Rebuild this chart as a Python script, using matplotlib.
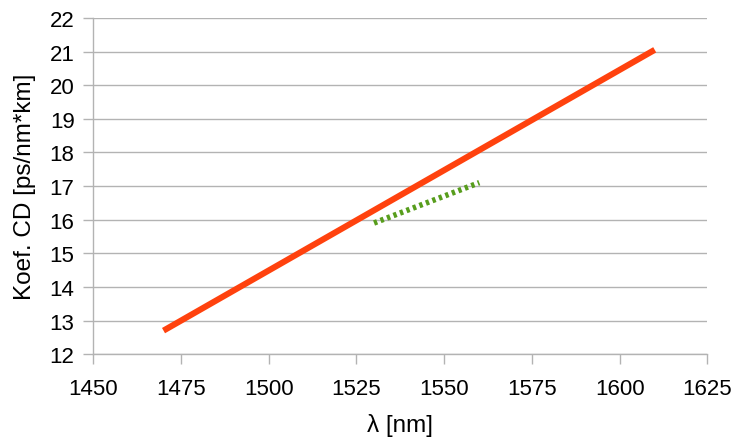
import matplotlib
matplotlib.use("Agg")
import matplotlib.pyplot as plt

plt.rcParams['font.family'] = ['Liberation Sans', 'DejaVu Sans']

# Data
wl_fiber = [1470, 1610]
cd_fiber = [12.7, 21.05]
wl_meas = [1530, 1560]
cd_meas = [15.9, 17.1]
xticks = [1450, 1475, 1500, 1525, 1550, 1575, 1600, 1625]
yticks = [12, 13, 14, 15, 16, 17, 18, 19, 20, 21, 22]

fig = plt.figure(figsize=(7.42, 4.39), dpi=100)
ax = fig.add_axes([0.1258, 0.191, 0.8275, 0.766])

ax.plot(wl_fiber, cd_fiber, color='#ff420e', linewidth=4.4, solid_capstyle='butt', zorder=3)
ax.plot(wl_meas, cd_meas, color='#579d1c', linewidth=4.0, dashes=(0.6, 0.65),
        dash_capstyle='butt', zorder=3)

ax.set_xlim(1450, 1625)
ax.set_ylim(12, 22)
ax.set_xticks(xticks)
ax.set_yticks(yticks)
ax.grid(axis='y', color='#b3b3b3', linewidth=1.0)
ax.set_axisbelow(True)
for s in ['top', 'right']:
    ax.spines[s].set_visible(False)
for s in ['left', 'bottom']:
    ax.spines[s].set_color('#b3b3b3')
    ax.spines[s].set_linewidth(1.0)
ax.tick_params(axis='both', colors='#b3b3b3', labelcolor='black', labelsize=16,
               length=7.5, width=1.0, direction='out')
ax.tick_params(axis='y', pad=6)
ax.tick_params(axis='x', pad=10)

ax.set_ylabel('Koef. CD [ps/nm*km]', fontsize=17.5, labelpad=10)
ax.set_xlabel('λ [nm]', fontsize=17.5, labelpad=10)

fig.savefig('out.png', dpi=100)
